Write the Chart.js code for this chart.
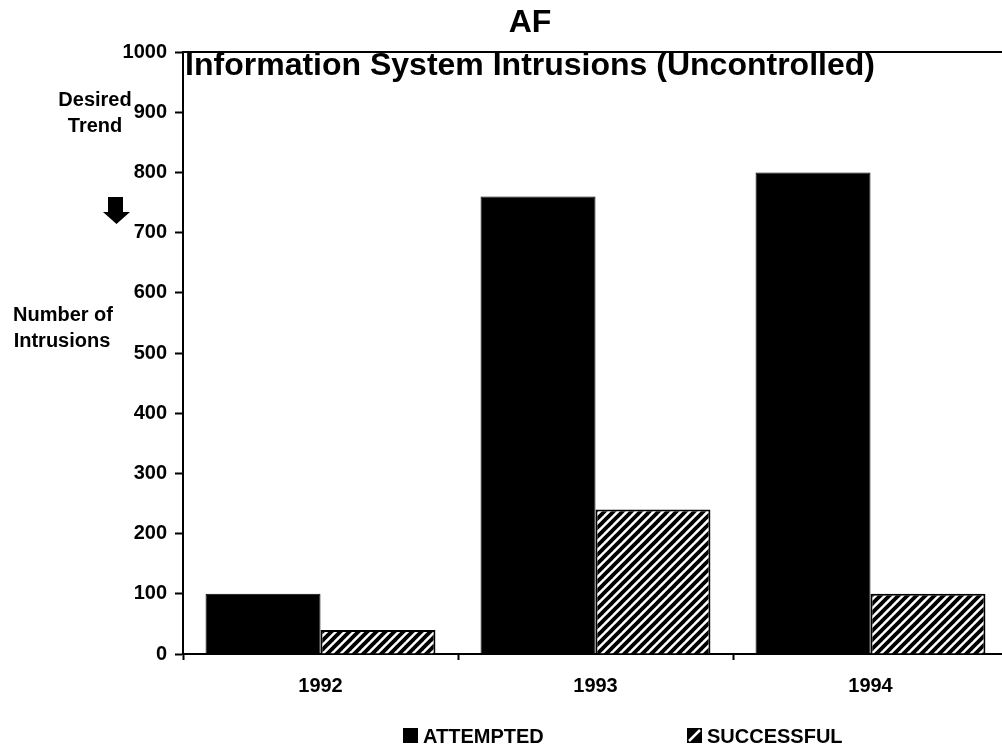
<!DOCTYPE html>
<html>
<head>
<meta charset="utf-8">
<title>AF Information System Intrusions</title>
<script src="https://cdn.jsdelivr.net/npm/chart.js@4/dist/chart.umd.min.js"></script>
<style>
  html, body { margin: 0; padding: 0; background: #fff; overflow: hidden; }
  #wrap { width: 1002px; height: 750px; overflow: hidden; }
</style>
</head>
<body>
<div id="wrap"><canvas id="myChart" width="1010" height="750"></canvas></div>
<script>
// data
var years = ['1992', '1993', '1994'];
var attempted = [100, 760, 800];
var successful = [40, 240, 100];
var yMin = 0, yMax = 1000, yStep = 100;
var seriesNames = ['ATTEMPTED', 'SUCCESSFUL'];

var FONT = '"Liberation Sans", Arial, sans-serif';

//diagonal hatch for the successful bars
function makeHatch () {
  var s = 9;
  var c = document.createElement('canvas');
  c.width = s; c.height = s;
  var g = c.getContext('2d');
  g.fillStyle = '#fff';
  g.fillRect(0, 0, s, s);
  g.strokeStyle = '#000';
  g.lineWidth = 3.8;
  for (var k = -2; k <= 2; k++) {
    g.beginPath();
    g.moveTo(k * s - s, 2 * s);
    g.lineTo(k * s + 2 * s, -s);
    g.stroke();
  }
  return g.createPattern(c, 'repeat');
}
var hatch = makeHatch();

//titles, side notes, arrow, legend
var decorations = {
  id: 'decorations',
  afterDraw: function (chart) {
    var ctx = chart.ctx, a = chart.chartArea;
    ctx.save();
    // frame top line
    ctx.strokeStyle = '#000';
    ctx.lineWidth = 2;
    ctx.beginPath();
    ctx.moveTo(a.left, a.top);
    ctx.lineTo(a.right, a.top);
    ctx.lineTo(a.right, a.bottom);
    ctx.stroke();

    ctx.fillStyle = '#000';
    ctx.textAlign = 'center';
    ctx.textBaseline = 'alphabetic';
    ctx.font = 'bold 32px ' + FONT;
    ctx.fillText('AF', 530, 32);
    ctx.fillText('Information System Intrusions (Uncontrolled)', 530, 75);

    ctx.font = 'bold 20px ' + FONT;
    ctx.fillText('Desired', 95, 106);
    ctx.fillText('Trend', 95, 132);
    ctx.fillText('Number of', 63, 321);
    ctx.fillText('Intrusions', 62, 347);

    // down arrow
    ctx.fillRect(108, 197, 15, 16);
    ctx.beginPath();
    ctx.moveTo(103, 212);
    ctx.lineTo(130, 212);
    ctx.lineTo(116.5, 224);
    ctx.closePath();
    ctx.fill();

    // legend
    var ds = chart.data.datasets;
    var lx = [403, 687];
    ctx.textAlign = 'left';
    for (var i = 0; i < ds.length; i++) {
      if (i === 1) {
        // swatch: black box split by one white diagonal
        ctx.fillStyle = '#000';
        ctx.fillRect(lx[i], 728, 15, 15);
        ctx.strokeStyle = '#fff';
        ctx.lineWidth = 2.5;
        ctx.beginPath();
        ctx.moveTo(lx[i] + 2, 741);
        ctx.lineTo(lx[i] + 13, 730);
        ctx.stroke();
      } else {
        ctx.fillStyle = ds[i].backgroundColor;
        ctx.fillRect(lx[i], 728, 15, 15);
      }
      ctx.fillStyle = '#000';
      ctx.fillText(ds[i].label, lx[i] + 20, 743);
    }
    ctx.restore();
  }
};

var tickFont = { family: FONT, size: 20, weight: 'bold' };

var ctx = document.getElementById('myChart').getContext('2d');
var myChart = new Chart(ctx, {
  type: 'bar',
  data: {
    labels: years,
    datasets: [{
      label: seriesNames[0],
      data: attempted,
      backgroundColor: '#000',
      borderColor: '#000',
      borderWidth: 1
    }, {
      label: seriesNames[1],
      data: successful,
      backgroundColor: hatch,
      borderColor: '#000',
      borderWidth: 2
    }]
  },
  options: {
    responsive: false,
    animation: false,
    devicePixelRatio: 1,
    barPercentage: 1,
    categoryPercentage: 0.836,
    layout: { padding: { left: 0, top: 52, right: 2, bottom: 0 } },
    plugins: {
      legend: { display: false },
      title: { display: false },
      tooltip: { enabled: false }
    },
    scales: {
      x: {
        grid: {
          offset: true,
          drawOnChartArea: false,
          drawTicks: true,
          tickLength: 6,
          tickWidth: 2,
          tickColor: '#000'
        },
        border: { color: '#000', width: 2 },
        ticks: { color: '#000', font: tickFont, padding: 14, maxRotation: 0 },
        afterFit: function (s) { s.height = 96; }
      },
      y: {
        min: yMin,
        max: yMax,
        grid: {
          drawOnChartArea: false,
          drawTicks: true,
          tickLength: 8,
          tickWidth: 2,
          tickColor: '#000'
        },
        border: { color: '#000', width: 2 },
        ticks: {
          stepSize: yStep,
          color: '#000',
          font: tickFont,
          padding: 8,
          callback: function (v) { return String(v); }
        },
        afterFit: function (s) { s.width = 183; }
      }
    }
  },
  plugins: [decorations]
});
</script>
</body>
</html>
